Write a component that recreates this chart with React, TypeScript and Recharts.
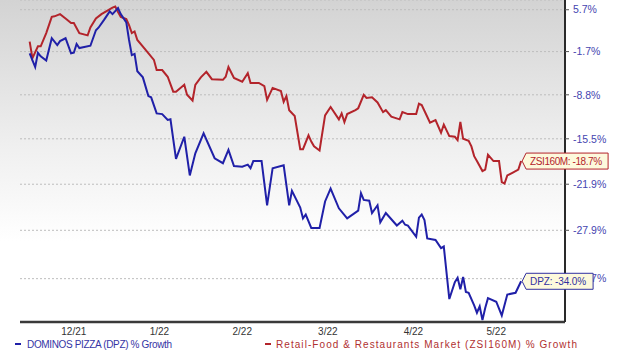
import { LineChart, Line, XAxis, YAxis, CartesianGrid } from "recharts";

// ─── Data ────────────────────────────────────────────────
const DPZ_DATES = [
  "2021-11-30",
  "2021-12-02", "2021-12-03", "2021-12-04", "2021-12-06", "2021-12-08", "2021-12-10", "2021-12-11", "2021-12-13", "2021-12-15", "2021-12-16", "2021-12-17", "2021-12-18", "2021-12-22", "2021-12-24", "2021-12-25", "2021-12-27", "2021-12-29", "2021-12-30",
  "2022-01-01", "2022-01-02", "2022-01-04", "2022-01-05", "2022-01-06", "2022-01-07", "2022-01-08", "2022-01-10", "2022-01-12", "2022-01-13", "2022-01-15", "2022-01-17", "2022-01-19", "2022-01-20", "2022-01-22", "2022-01-25", "2022-01-27", "2022-01-29",
  "2022-02-01", "2022-02-05", "2022-02-08", "2022-02-10", "2022-02-12", "2022-02-15", "2022-02-17", "2022-02-18", "2022-02-19", "2022-02-22", "2022-02-24", "2022-02-26",
  "2022-03-02", "2022-03-04", "2022-03-05", "2022-03-08", "2022-03-09", "2022-03-10", "2022-03-12", "2022-03-15", "2022-03-17", "2022-03-19", "2022-03-22", "2022-03-25", "2022-03-29", "2022-03-30", "2022-03-31",
  "2022-04-02", "2022-04-03", "2022-04-05", "2022-04-06", "2022-04-08", "2022-04-12", "2022-04-14", "2022-04-15", "2022-04-16", "2022-04-19", "2022-04-20", "2022-04-21", "2022-04-22", "2022-04-23", "2022-04-26", "2022-04-28", "2022-04-29",
  "2022-05-01", "2022-05-03", "2022-05-04", "2022-05-05", "2022-05-06", "2022-05-07", "2022-05-08", "2022-05-10", "2022-05-11", "2022-05-12", "2022-05-13", "2022-05-14", "2022-05-15", "2022-05-18", "2022-05-20", "2022-05-22", "2022-05-25", "2022-05-27",
];
const DPZ_GROWTH = [
  -2.0,
  -4.3, -1.9, -2.5, -3.2, 0.6, -0.6, 0.1, 0.6, -2.0, -1.9, -0.4, -1.1, -0.7, 2.0, 2.5, 3.9, 5.4, 4.9,
  6.0, 4.9, 3.4, 0.3, -2.3, -2.1, -5.0, -6.0, -9.0, -9.2, -11.7, -11.8, -12.7, -12.6, -18.4, -15.2, -20.7, -17.6,
  -14.7, -18.3, -19.0, -17.1, -19.4, -19.5, -19.2, -19.7, -18.7, -18.7, -24.7, -19.7,
  -19.3, -24.7, -22.8, -25.0, -26.4, -25.9, -27.6, -27.6, -24.2, -22.5, -25.1, -26.4, -25.4, -23.1, -24.0,
  -24.1, -25.7, -24.7, -26.9, -25.7, -27.3, -26.7, -27.2, -27.3, -28.7, -26.3, -25.9, -26.6, -28.9, -29.1, -30.1, -29.9,
  -36.0, -34.1, -33.6, -34.9, -33.5, -35.2, -35.3, -36.7, -37.5, -36.8, -38.3, -37.0, -35.9, -36.3, -37.8, -35.5, -35.3, -34.0,
];

const ZSI_DATES = [
  "2021-11-30",
  "2021-12-01", "2021-12-03", "2021-12-04", "2021-12-06", "2021-12-08", "2021-12-09", "2021-12-11", "2021-12-13", "2021-12-15", "2021-12-16", "2021-12-18", "2021-12-21", "2021-12-22", "2021-12-24", "2021-12-26", "2021-12-30", "2021-12-31",
  "2022-01-01", "2022-01-02", "2022-01-04", "2022-01-05", "2022-01-06", "2022-01-07", "2022-01-08", "2022-01-11", "2022-01-14", "2022-01-15", "2022-01-17", "2022-01-19", "2022-01-21", "2022-01-22", "2022-01-25", "2022-01-26", "2022-01-28", "2022-01-29", "2022-01-31",
  "2022-02-02", "2022-02-04", "2022-02-08", "2022-02-09", "2022-02-10", "2022-02-12", "2022-02-15", "2022-02-17", "2022-02-18", "2022-02-21", "2022-02-23", "2022-02-24", "2022-02-26",
  "2022-03-01", "2022-03-02", "2022-03-03", "2022-03-04", "2022-03-06", "2022-03-08", "2022-03-09", "2022-03-11", "2022-03-12", "2022-03-13", "2022-03-15", "2022-03-17", "2022-03-19", "2022-03-22", "2022-03-23", "2022-03-24", "2022-03-25", "2022-03-28", "2022-03-29", "2022-03-31",
  "2022-04-01", "2022-04-03", "2022-04-05", "2022-04-07", "2022-04-08", "2022-04-10", "2022-04-13", "2022-04-14", "2022-04-16", "2022-04-19", "2022-04-20", "2022-04-21", "2022-04-23", "2022-04-24", "2022-04-26", "2022-04-28", "2022-04-29",
  "2022-05-01", "2022-05-03", "2022-05-04", "2022-05-05", "2022-05-06", "2022-05-08", "2022-05-09", "2022-05-10", "2022-05-11", "2022-05-13", "2022-05-14", "2022-05-15", "2022-05-17", "2022-05-19", "2022-05-20", "2022-05-21", "2022-05-22", "2022-05-24", "2022-05-26", "2022-05-27",
];
const ZSI_GROWTH = [
  0.0,
  -2.8, -0.8, -0.8, 1.5, 4.4, 4.5, 4.9, 4.1, 3.3, 3.3, 1.5, 1.1, 2.5, 4.1, 4.9, 6.1, 6.3,
  5.3, 4.4, 4.0, 2.9, 1.5, 1.8, 0.3, -1.4, -3.1, -4.8, -4.8, -5.9, -8.3, -8.3, -7.2, -8.8, -9.7, -7.2, -6.0,
  -5.1, -6.3, -6.4, -5.9, -4.3, -6.1, -6.7, -5.3, -6.9, -6.9, -7.4, -9.6, -7.7,
  -8.2, -9.9, -9.0, -11.2, -12.1, -17.0, -17.0, -15.0, -15.9, -16.6, -17.2, -12.0, -10.7, -12.6, -11.7, -13.0, -11.8, -11.2, -10.9, -8.8,
  -9.3, -9.2, -10.0, -11.5, -11.2, -12.2, -12.6, -11.5, -11.8, -11.8, -10.2, -10.4, -12.2, -13.1, -12.7, -14.6, -13.4,
  -15.1, -15.2, -15.7, -13.0, -15.5, -15.8, -16.6, -18.0, -18.7, -20.1, -19.9, -17.8, -18.7, -18.7, -21.6, -21.8, -20.7, -20.3, -19.9, -18.7,
];

const MONTH_STARTS = ["2021-12-01", "2022-01-01", "2022-02-01", "2022-03-01", "2022-04-01", "2022-05-01", "2022-06-01"];
const MONTH_LABEL_DATES = ["2021-12-16", "2022-01-16", "2022-02-15", "2022-03-18", "2022-04-18", "2022-05-18"];
const MONTH_LABELS = ["12/21", "1/22", "2/22", "3/22", "4/22", "5/22"];
const Y_TICKS = [5.7, -1.7, -8.8, -15.5, -21.9, -27.9, -33.7];

const DPZ_NAME = "DOMINOS PIZZA (DPZ) % Growth";
const ZSI_NAME = "Retail-Food & Restaurants Market (ZSI160M) % Growth";

// ─── Helpers ─────────────────────────────────────────────
const ORIGIN = Date.UTC(2021, 11, 1);
const dayOf = (s: string) => (Date.parse(s + "T00:00:00Z") - ORIGIN) / 86400000;

const toRows = (dates: string[], growth: number[]) =>
  dates.map((d, i) => ({ day: dayOf(d), growth: growth[i], index: 100 + growth[i] }));

const dpzData = toRows(DPZ_DATES, DPZ_GROWTH);
const zsiData = toRows(ZSI_DATES, ZSI_GROWTH);
const labelTicks = MONTH_LABEL_DATES.map(dayOf);
const monthStartDays = MONTH_STARTS.map(dayOf);

const BLUE = "#2020a8";
const RED = "#b3242b";
const GRID = "#bdbdbd";
const FONT = "'Liberation Sans', Arial, sans-serif";

// month-start grid lines, placed through the x axis scale
const monthGrid = ({ xAxis }: any) => {
  const scale = xAxis?.scale;
  if (typeof scale !== "function") return [];
  return monthStartDays.map((d) => scale(d));
};

function makeTag(count: number, text: string, color: string, boxW: number, textW: number) {
  return (props: any) => {
    const { x, y, index } = props;
    if (index !== count - 1 || x == null || y == null) return null;
    const left = x + 5;
    const d = `M${x + 1},${y} L${left},${y - 8} L${left + boxW},${y - 8} L${left + boxW},${y + 8} L${left},${y + 8} Z`;
    return (
      <g>
        <path d={d} fill="#fdf9dc" stroke={color} strokeWidth={1} />
        <text x={x + 9} y={y + 3.5} fontSize={10} fill={color} fontFamily={FONT} textLength={textW}>
          {text}
        </text>
      </g>
    );
  };
}

// ─── Component ───────────────────────────────────────────
export default function App() {
  return (
    <div style={{ position: "absolute", left: 0, top: 0, width: 620, height: 351, background: "#fff", fontFamily: FONT }}>
      {/* plot background */}
      <div
        style={{
          position: "absolute",
          left: 0,
          top: 0,
          width: 565,
          height: 322,
          background: "linear-gradient(to bottom, #d3d3d3 0%, #efefef 45%, #ffffff 75%)",
        }}
      />
      <div style={{ position: "absolute", left: 0, top: 0 }}>
        <LineChart width={620} height={351} margin={{ top: 0, right: 0, left: 20, bottom: 0 }}>
          <CartesianGrid
            stroke={GRID}
            strokeDasharray="2 2"
            verticalCoordinatesGenerator={monthGrid}
          />
          <XAxis
            dataKey="day"
            type="number"
            domain={[-4.5, 192.9]}
            allowDataOverflow
            ticks={labelTicks}
            tickFormatter={(v: number) => MONTH_LABELS[labelTicks.indexOf(v)] ?? ""}
            tick={{ fontSize: 10, fill: "#333", fontFamily: FONT }}
            tickLine={false}
            tickSize={4}
            tickMargin={2}
            axisLine={{ stroke: "#3a3a3a", strokeWidth: 2.5 }}
            height={29}
          />
          <YAxis
            orientation="right"
            type="number"
            scale="log"
            domain={[61.5, 107.5]}
            allowDataOverflow
            ticks={Y_TICKS.map((t) => 100 + t)}
            tickFormatter={(v: number) => (v - 100).toFixed(1) + "%"}
            tick={{ fontSize: 10.5, fill: "#4545b0", fontFamily: FONT }}
            tickLine={{ stroke: "#555" }}
            tickSize={4}
            tickMargin={4}
            axisLine={{ stroke: "#2a2a2a", strokeWidth: 2 }}
            width={55}
          />
          <Line
            data={zsiData}
            dataKey="index"
            type="linear"
            stroke={RED}
            strokeWidth={2}
            dot={false}
            isAnimationActive={false}
            label={makeTag(zsiData.length, "ZSI160M: -18.7%", RED, 82, 72)}
          />
          <Line
            data={dpzData}
            dataKey="index"
            type="linear"
            stroke={BLUE}
            strokeWidth={2}
            dot={false}
            isAnimationActive={false}
            label={makeTag(dpzData.length, "DPZ: -34.0%", "#3030a0", 67, 56)}
          />
        </LineChart>
      </div>
      {/* legend */}
      <svg width={620} height={351} style={{ position: "absolute", left: 0, top: 0, pointerEvents: "none" }}>
        <rect x={15} y={343} width={6} height={2} fill={BLUE} />
        <text x={27} y={347.5} fontSize={10} fill="#3535a5" fontFamily={FONT} textLength={145}>
          {DPZ_NAME}
        </text>
        <rect x={265} y={343} width={6} height={2} fill={RED} />
        <text x={276} y={347.5} fontSize={10} fill="#b03030" fontFamily={FONT} textLength={301}>
          {ZSI_NAME}
        </text>
      </svg>
    </div>
  );
}
